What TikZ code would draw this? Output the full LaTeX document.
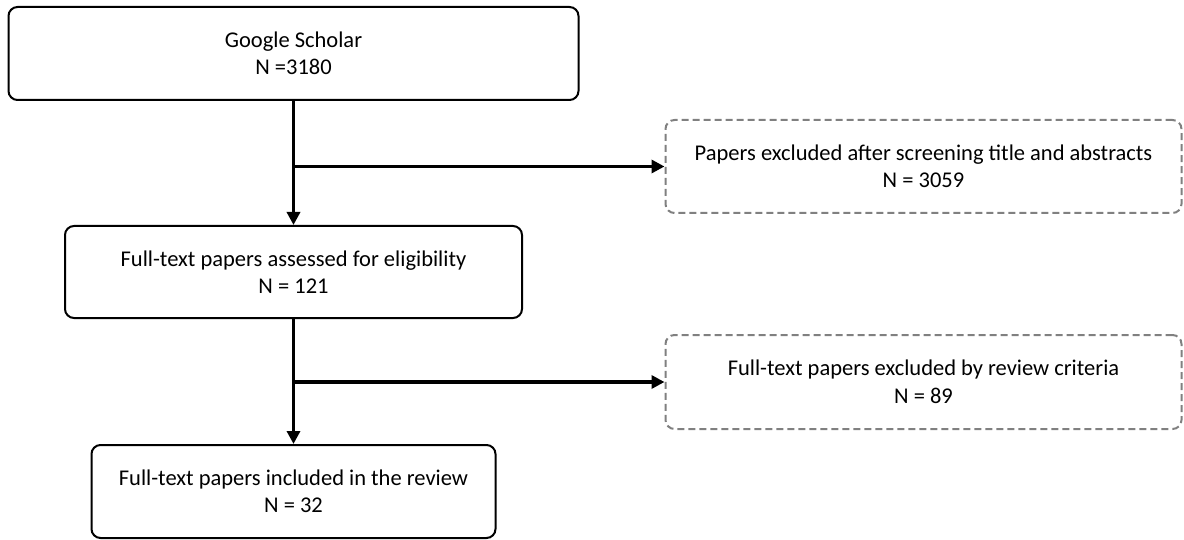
\documentclass[tikz,border=0pt]{standalone}
\usepackage{fontspec}
\setmainfont{Carlito}
\usetikzlibrary{arrows.meta}
\begin{document}
\begin{tikzpicture}[x=1pt,y=-1pt,
  boxtext/.style={align=center, inner sep=0pt, font=\fontsize{22.5}{27.5}\selectfont},
  stagebox/.style={boxtext, draw=black, line width=2pt, rounded corners=9pt, fill=white},
  excludebox/.style={boxtext, draw=black!50, line width=2pt,
    dash pattern=on 7pt off 4pt, rounded corners=9pt},
  flow/.style={line width=3.6pt, -{Triangle[length=13pt,width=13pt]}}]
\useasboundingbox (0,0) rectangle (1184,540);

\node[stagebox, minimum width=570, minimum height=93] (gs) at (293.5,53.5)
  {Google Scholar\\N =3180};
\node[stagebox, minimum width=457, minimum height=92] (ft) at (293.5,272)
  {Full-text papers assessed for eligibility\\N = 121};
\node[stagebox, minimum width=404, minimum height=93] (inc) at (293.5,491.5)
  {Full-text papers included in the review\\N = 32};

\node[excludebox, minimum width=516, minimum height=93] (ex1) at (923.5,166.5)
  {Papers excluded after screening title and abstracts\\N = 3059};
\node[excludebox, minimum width=516, minimum height=94] (ex2) at (923.5,382)
  {Full-text papers excluded by review criteria\\N = 89};

\coordinate (b1) at (gs.south |- ex1.west);
\coordinate (b2) at (ft.south |- ex2.west);

\draw[flow] (gs.south) -- (ft.north);
\draw[flow] (b1) -- (ex1.west);
\draw[flow] (ft.south) -- (inc.north);
\draw[flow] (b2) -- (ex2.west);
\end{tikzpicture}
\end{document}
